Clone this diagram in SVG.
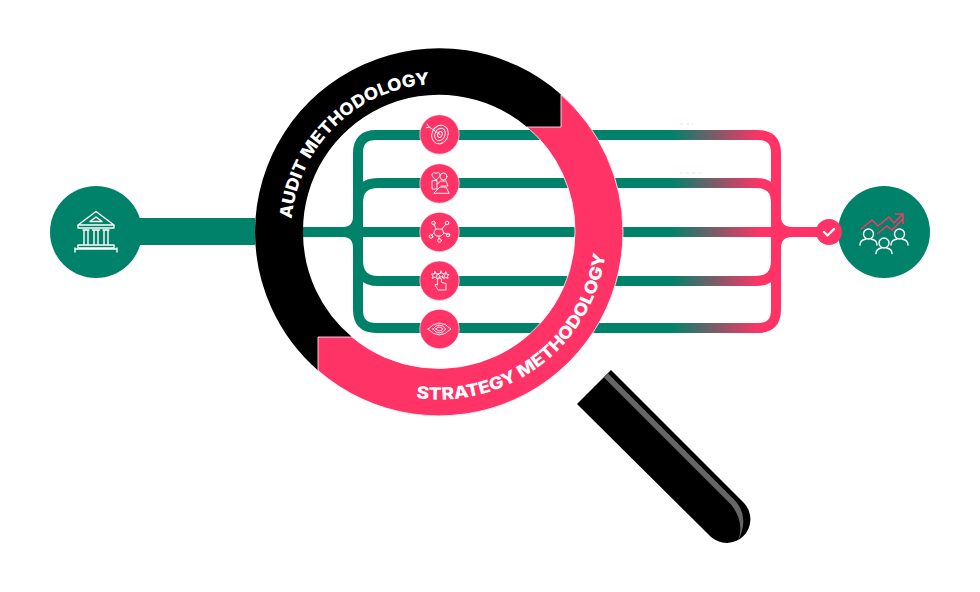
<svg xmlns="http://www.w3.org/2000/svg" width="980" height="592" viewBox="0 0 980 592">
<style>
.ln{fill:none;stroke-width:10}
.g{stroke:#00826a}
.p{stroke:url(#grad)}
.ic{fill:none;stroke:#fff;stroke-width:.9;stroke-linejoin:round;stroke-linecap:round}
.ict{fill:none;stroke:#fff;stroke-width:1.4;stroke-linejoin:round;stroke-linecap:round}
.dot{fill:#ff3366;stroke:#fff;stroke-opacity:.6;stroke-width:1}
.lab{font-family:"Inter","Open Sans","Liberation Sans",sans-serif;font-weight:800;font-size:17px;fill:#fff}
</style>
<defs>
<linearGradient id="grad" gradientUnits="userSpaceOnUse" x1="672" y1="0" x2="760" y2="0">
<stop offset="0" stop-color="#00826a"/><stop offset="1" stop-color="#ff3366"/>
</linearGradient>
<path id="arcA" d="M291.700,219 A148,148 0 0 1 439,84 A148,148 0 0 1 470,87"/>
<path id="arcS" d="M416,398 A168,168 0 0 0 607,232 A168,168 0 0 0 605,205"/>
</defs>
<g id="connectors">
<rect x="135" y="218" width="120" height="27" fill="#00826a"/>
<path class="ln g" d="M439,135H376Q358,135 358,153V310Q358,328 376,328H439"/>
<path class="ln g" d="M439,183H378Q358,183 358,203V260Q358,281 378,281H439"/>
<path class="ln g" d="M303,232H590"/>
<path d="M340,227H343Q353,227 353,216V248Q353,237 343,237H340Z" fill="#00826a"/>
<path class="ln g" d="M439,135H672M439,183H672M439,281H672M439,328H672"/>
<path class="ln p" d="M590,135H758Q776,135 776,153V310Q776,328 758,328H590"/>
<path class="ln p" d="M590,183H756Q776,183 776,203V260Q776,281 756,281H590"/>
<path class="ln p" d="M590,232H776"/>
<path d="M781,216Q781,227 792,227H820V237H792Q781,237 781,248Z" fill="#ff3366"/>
</g>
<g id="handle">
<path d="M611,370L744,503A23.700,23.700 0 0 1 710.500,536.500L577,404Z" fill="#000"/>
<path d="M604,377.500L608,373.500L735,500.500Q750,517 738,541Q745,522 731,504.500Z" fill="#666"/>
</g>
<g id="ring-audit">
<path d="M318,370.500A184,184 0 0 1 255,232A184,184 0 0 1 561,94.500V127H527A136,136 0 0 0 303,232A136,136 0 0 0 352,337H318Z" fill="#000"/>
<text class="lab"><textPath href="#arcA" textLength="210" lengthAdjust="spacingAndGlyphs">AUDIT METHODOLOGY</textPath></text>
</g>
<g id="ring-strategy">
<path d="M561,94.500A184,184 0 0 1 623,232A184,184 0 0 1 318,370.500V337H352A136,136 0 0 0 575,232A136,136 0 0 0 527,127H561Z" fill="#ff3366" stroke="#fff" stroke-width="0.800"/>
<text class="lab"><textPath href="#arcS" textLength="264" lengthAdjust="spacingAndGlyphs">STRATEGY METHODOLOGY</textPath></text>
</g>
<g id="source">
<circle cx="96" cy="232" r="46" fill="#00826a"/>
<path class="ict" d="M78,225L96,211.500L114,225ZM90,221.500L96,217L102,221.500ZM78,225V228H114V225M81,228H111M83,230H89M92.500,230H99.500M103,230H109M84,230V245M88,230V245M94,230V245M98,230V245M104,230V245M108,230V245M78,245H114V248H78ZM75,248V252M117,248V252M75,249H117"/>
</g>
<g id="result">
<circle cx="884" cy="232" r="46" fill="#00826a"/>
<path d="M861,229L872,220L878,226L889,217L894,223L902,215" fill="none" stroke="#ff3366" stroke-width="1.500"/>
<path d="M877,234L887,226L892,230L904,218M895,214H903V224" fill="none" stroke="#ff3366" stroke-width="1.500"/>
<circle class="ict" cx="868.500" cy="234" r="5"/>
<path class="ict" d="M860,245Q860,240 866,239M877,245Q877,240 871,239"/>
<circle class="ict" cx="884" cy="243" r="5"/>
<path class="ict" d="M876,253.500Q876,249 881.500,248M892,253.500Q892,249 886.500,248"/>
<circle class="ict" cx="899.500" cy="234" r="5"/>
<path class="ict" d="M891,245Q891,240 897,239M908,245Q908,240 902,239"/>
</g>
<g id="check">
<circle cx="829" cy="232" r="13" fill="#ff3366"/>
<path d="M824,232L827.500,235.500L834,229" fill="none" stroke="#fff" stroke-width="2.400" stroke-linecap="round" stroke-linejoin="round"/>
</g>
<g id="icon-target">
<circle class="dot" cx="439.500" cy="134.500" r="19.700"/>
<ellipse class="ic" cx="440" cy="134.500" rx="8" ry="9.500" transform="rotate(25 440 134.500)"/>
<ellipse class="ic" cx="440" cy="134.500" rx="5" ry="6.500" transform="rotate(25 440 134.500)"/>
<ellipse class="ic" cx="440" cy="134.500" rx="2.200" ry="3" transform="rotate(25 440 134.500)"/>
<path class="ic" d="M440,134.500L429,127M429,127L427,124M429,127L426,128"/>
</g>
<g id="icon-heart">
<circle class="dot" cx="439.500" cy="183.500" r="19.700"/>
<path class="ic" d="M436,180Q431,176 432,174Q434,171 436,173.500Q439,171 440,174Q441,176 436,180Z"/>
<circle class="ic" cx="443.500" cy="176.500" r="3.500"/>
<path class="ic" d="M432,181V189H437V181ZM437,184L441,181H446L448,186H441M434,193L440,187L446,187L449,193Z"/>
</g>
<g id="icon-network">
<circle class="dot" cx="439.500" cy="232" r="19.700"/>
<path class="ic" d="M436,229H442L444,233L441,236H436L434,233ZM436,229L434,224M442,229L446,224M434,233L431,236M444,233L449,235M439,236V239"/>
<circle class="ic" cx="433.500" cy="223" r="1.800"/><circle class="ic" cx="447" cy="223" r="1.800"/><circle class="ic" cx="431" cy="236.500" r="1.800"/><circle class="ic" cx="448" cy="235" r="1.800"/><circle class="ic" cx="439.500" cy="240.500" r="1.800"/>
</g>
<g id="icon-stars">
<circle class="dot" cx="439.500" cy="280.700" r="19.700"/>
<path class="ic" d="M435,271.500L436,274H438.500L436.500,276L437,278.500L435,277L432.500,278.500L433,276L431.500,274H434ZM441,271L442,273.500H444.500L442.500,275.500L443,278L441,276.500L439,278L439.500,275.500L437.500,273.500H440ZM446,272L447,274.500H449L447.500,276L448,278.500L446,277.500L444,278.500ZM437.500,279V285L436,284L435,285L438,290H446V283.500L441.500,282.500V279Q439.500,277.500 437.500,279Z"/>
</g>
<g id="icon-eye">
<circle class="dot" cx="439.500" cy="329" r="19.700"/>
<path class="ic" d="M428,329Q439,317 451,329Q439,341 428,329ZM433,329Q439,321 446,329Q439,337 433,329ZM436,329Q439,325 443,329Q439,333 436,329Z"/>
</g>
<path d="M680,124H693M680,173H702" stroke="#ff3366" stroke-opacity=".2" stroke-dasharray="3 3" stroke-width="1" fill="none"/>
</svg>
